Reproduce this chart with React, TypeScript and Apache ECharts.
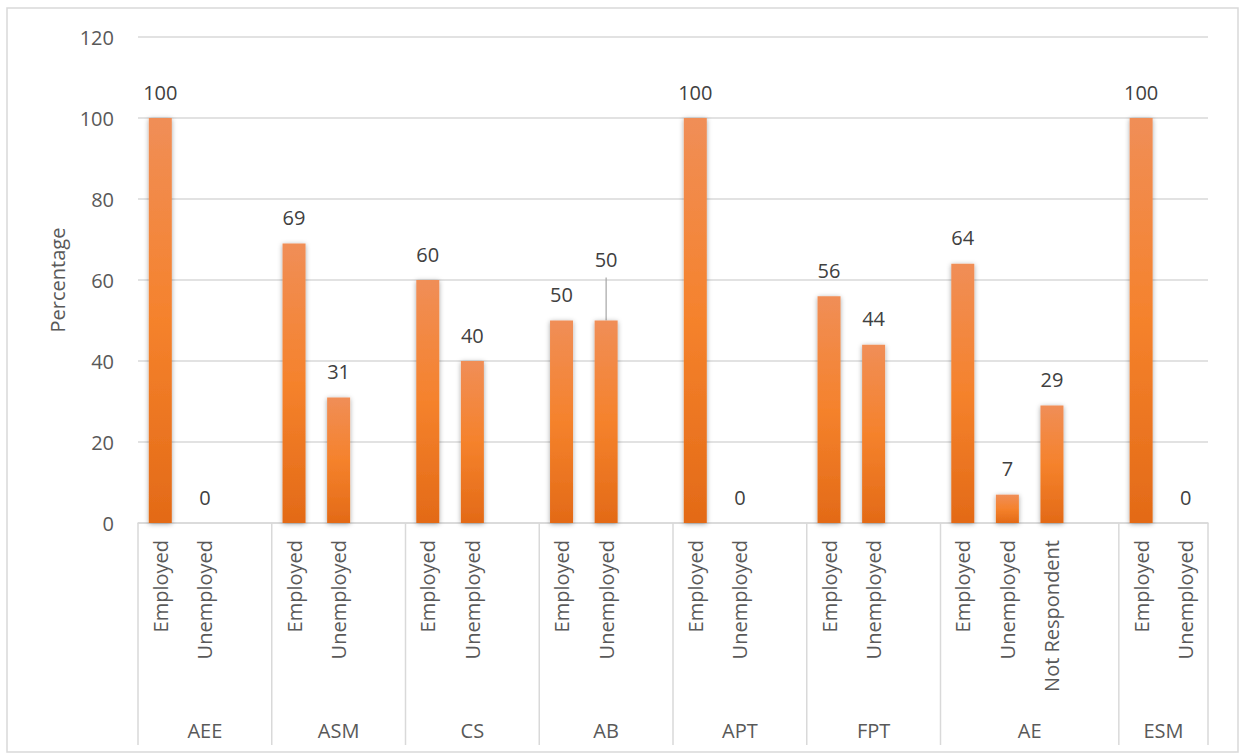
import React, { useEffect, useRef } from "react";
import * as echarts from "echarts";

const groups = ["AEE", "ASM", "CS", "AB", "APT", "FPT", "AE", "ESM"];
const groupSlots = [3, 3, 3, 3, 3, 3, 4, 2];
const subLabels = [
  ["Employed", "Unemployed"],
  ["Employed", "Unemployed"],
  ["Employed", "Unemployed"],
  ["Employed", "Unemployed"],
  ["Employed", "Unemployed"],
  ["Employed", "Unemployed"],
  ["Employed", "Unemployed", "Not Respondent"],
  ["Employed", "Unemployed"],
];
const values = [
  [100, 0],
  [69, 31],
  [60, 40],
  [50, 50],
  [100, 0],
  [56, 44],
  [64, 7, 29],
  [100, 0],
];
const yTicks = { min: 0, max: 120, interval: 20 };

export default function App() {
  const ref = useRef<HTMLDivElement>(null);
  useEffect(() => {
    if (!ref.current) return;
    const chart = echarts.init(ref.current, undefined, { renderer: "svg" });

    const categories: string[] = [];
    const data: any[] = [];
    const groupRanges: { start: number; end: number; name: string }[] = [];
    let raisedIndex = -1;
    groups.forEach((g, gi) => {
      const start = categories.length;
      for (let s = 0; s < groupSlots[gi]; s++) {
        const lab = subLabels[gi][s];
        categories.push(g + "|" + (lab ?? "blank" + s));
        if (lab !== undefined) {
          const v = values[gi][s];
          const item: any = { value: v };
          if (g === "AB" && s === 1) {
            item.label = { offset: [0, -35] };
            raisedIndex = categories.length - 1;
          }
          data.push(item);
        } else {
          data.push("-");
        }
      }
      groupRanges.push({ start, end: categories.length - 1, name: g });
    });

    const textColor = "#595959";
    const lineColor = "#d9d9d9";
    const font = "'Open Sans', sans-serif";

    chart.setOption({
      animation: false,
      grid: { left: 138, right: 33, top: 37, bottom: 230, containLabel: false },
      xAxis: {
        type: "category",
        data: categories,
        axisLine: { lineStyle: { color: lineColor, width: 1.5 } },
        axisTick: { show: false },
        axisLabel: {
          interval: 0,
          rotate: 90,
          margin: 17,
          fontSize: 20,
          fontFamily: font,
          color: textColor,
          formatter: (v: string) => {
            const t = v.split("|")[1];
            return t.startsWith("blank") ? "" : t;
          },
        },
      },
      yAxis: {
        type: "value",
        min: yTicks.min,
        max: yTicks.max,
        interval: yTicks.interval,
        name: "Percentage",
        nameLocation: "middle",
        nameGap: 71,
        nameTextStyle: { fontSize: 20, fontFamily: font, color: textColor },
        axisLine: { show: false },
        axisTick: { show: false },
        axisLabel: { fontSize: 20, fontFamily: font, color: textColor, margin: 24 },
        splitLine: { lineStyle: { color: lineColor, width: 1.5 } },
      },
      series: [
        {
          type: "bar",
          data,
          barWidth: 23,
          itemStyle: {
            color: new echarts.graphic.LinearGradient(0, 0, 0, 1, [
              { offset: 0, color: "#F08E57" },
              { offset: 0.5, color: "#F5822C" },
              { offset: 1, color: "#E36A17" },
            ]),
            shadowBlur: 5,
            shadowColor: "rgba(0,0,0,0.35)",
            shadowOffsetX: 0,
            shadowOffsetY: 1,
          },
          label: {
            show: true,
            position: "top",
            distance: 16,
            fontSize: 20,
            fontFamily: font,
            color: "#404040",
          },
        },
      ],
    });

    // Build decorations from the axis scales
    const cx = (i: number) => chart.convertToPixel({ xAxisIndex: 0 }, categories[i]) as number;
    const band = cx(1) - cx(0);
    const y0 = chart.convertToPixel({ yAxisIndex: 0 }, 0) as number;
    const bottomY = 745;
    const graphics: any[] = [];
    const boundaries: number[] = [];
    groupRanges.forEach((r, i) => {
      if (i === 0) boundaries.push(cx(r.start) - band / 2);
      boundaries.push(cx(r.end) + band / 2);
      const center = (cx(r.start) - band / 2 + cx(r.end) + band / 2) / 2;
      graphics.push({
        type: "text",
        x: center,
        y: 730,
        style: {
          text: r.name,
          fontSize: 20,
          fontFamily: font,
          fill: textColor,
          align: "center",
          verticalAlign: "middle",
        },
      });
    });
    boundaries.forEach((bx) => {
      graphics.push({
        type: "line",
        shape: { x1: bx, y1: y0, x2: bx, y2: bottomY },
        style: { stroke: lineColor, lineWidth: 1.5 },
      });
    });
    if (raisedIndex >= 0) {
      const x = cx(raisedIndex);
      const top = chart.convertToPixel({ yAxisIndex: 0 }, data[raisedIndex].value) as number;
      graphics.push({
        type: "line",
        shape: { x1: x, y1: top - 43, x2: x, y2: top },
        style: { stroke: "#a6a6a6", lineWidth: 1.2 },
      });
    }
    graphics.push({
      type: "rect",
      shape: { x: 7, y: 8, width: 1231, height: 744 },
      style: { fill: "none", stroke: lineColor, lineWidth: 1.5 },
      silent: true,
    });
    chart.setOption({ graphic: graphics });

    return () => chart.dispose();
  }, []);
  return (
    <div
      ref={ref}
      style={{ position: "absolute", left: 0, top: 0, width: 1241, height: 753, background: "#fff" }}
    />
  );
}
